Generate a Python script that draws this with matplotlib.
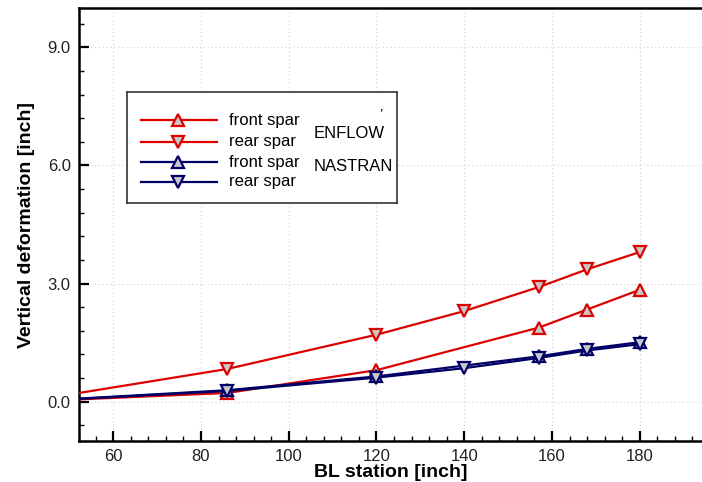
import matplotlib
matplotlib.use("Agg")
import matplotlib.pyplot as plt
from matplotlib.ticker import MultipleLocator, FormatStrFormatter

plt.rcParams["font.family"] = ["Liberation Sans", "DejaVu Sans"]

# BL stations; the first point is the root (line only, no marker)
front_x = [40, 86, 120, 157, 168, 180]
rear_x = [40, 86, 120, 140, 157, 168, 180]

enflow_front = [0.0, 0.22, 0.80, 1.88, 2.34, 2.84]
enflow_rear = [0.0, 0.83, 1.70, 2.30, 2.91, 3.36, 3.80]
nastran_front = [0.0, 0.29, 0.64, 1.15, 1.34, 1.51]
nastran_rear = [0.0, 0.27, 0.61, 0.85, 1.11, 1.30, 1.46]

legend_rows = ["front spar", "rear spar", "front spar", "rear spar"]
legend_groups = ["ENFLOW", "NASTRAN"]

RED = "#dc0000"
NAVY = "#000066"
FILL = "#c8c8c8"

fig = plt.figure(figsize=(7.02, 4.82), dpi=100)
ax = fig.add_axes([79 / 702, 41 / 482, 623 / 702, 433 / 482])

series = [
    (front_x, enflow_front, RED, "^"),
    (rear_x, enflow_rear, RED, "v"),
    (front_x, nastran_front, NAVY, "^"),
    (rear_x, nastran_rear, NAVY, "v"),
]
for xs, ys, col, mk in series:
    ax.plot(xs, ys, color=col, lw=1.6, marker=mk, markevery=list(range(1, len(xs))),
            ms=9, mfc=FILL, mec=col, mew=1.6, zorder=3)

ax.set_xlim(52.2, 194.2)
ax.set_ylim(-1.0, 10.0)
ax.xaxis.set_major_locator(MultipleLocator(20))
ax.xaxis.set_minor_locator(MultipleLocator(4))
ax.yaxis.set_major_locator(MultipleLocator(3))
ax.yaxis.set_minor_locator(MultipleLocator(0.6))
ax.yaxis.set_major_formatter(FormatStrFormatter("%.1f"))

ax.tick_params(which="both", direction="in", colors="black", labelcolor="#222222")
ax.tick_params(which="major", length=7, width=1.6, labelsize=12, pad=6)
ax.tick_params(which="minor", length=3.5, width=1.0)
ax.tick_params(axis="x", which="both", top=False)
ax.tick_params(axis="y", which="both", right=False)

for s in ["left", "bottom", "top"]:
    ax.spines[s].set_linewidth(1.8)
ax.spines["right"].set_visible(False)

ax.grid(True, which="major", linestyle=(0, (1, 2.5)), color="#d0d0d0", lw=0.8)
ax.set_axisbelow(True)

ax.set_xlabel("BL station [inch]", fontsize=14, fontweight="bold", labelpad=0)
ax.set_ylabel("Vertical deformation [inch]", fontsize=14, fontweight="bold", labelpad=9)

# legend box drawn as its own small axes
lg = fig.add_axes([126.7 / 702, 1 - 203.3 / 482, 270.3 / 702, 111 / 482])
lg.set_xlim(0, 270.3)
lg.set_ylim(111, 0)
lg.set_xticks([])
lg.set_yticks([])
for s in lg.spines.values():
    s.set_linewidth(1.2)
    s.set_color("#333333")

row_y = [28, 49.5, 70, 89.5]
styles = [(RED, "^"), (RED, "v"), (NAVY, "^"), (NAVY, "v")]
for yy, (col, mk), txt in zip(row_y, styles, legend_rows):
    lg.plot([14, 90], [yy, yy], color=col, lw=1.6)
    lg.plot([51.5], [yy], color=col, marker=mk, ms=9, mfc=FILL, mec=col, mew=1.6)
    lg.text(102.5, yy, txt, fontsize=12, va="center", ha="left")
lg.text(186.5, 41, legend_groups[0], fontsize=12, va="center", ha="left")
lg.text(186.5, 74, legend_groups[1], fontsize=12, va="center", ha="left")
lg.text(254, 22, "\u2019", fontsize=11, va="center", ha="center")

fig.savefig("out.png", dpi=100)
